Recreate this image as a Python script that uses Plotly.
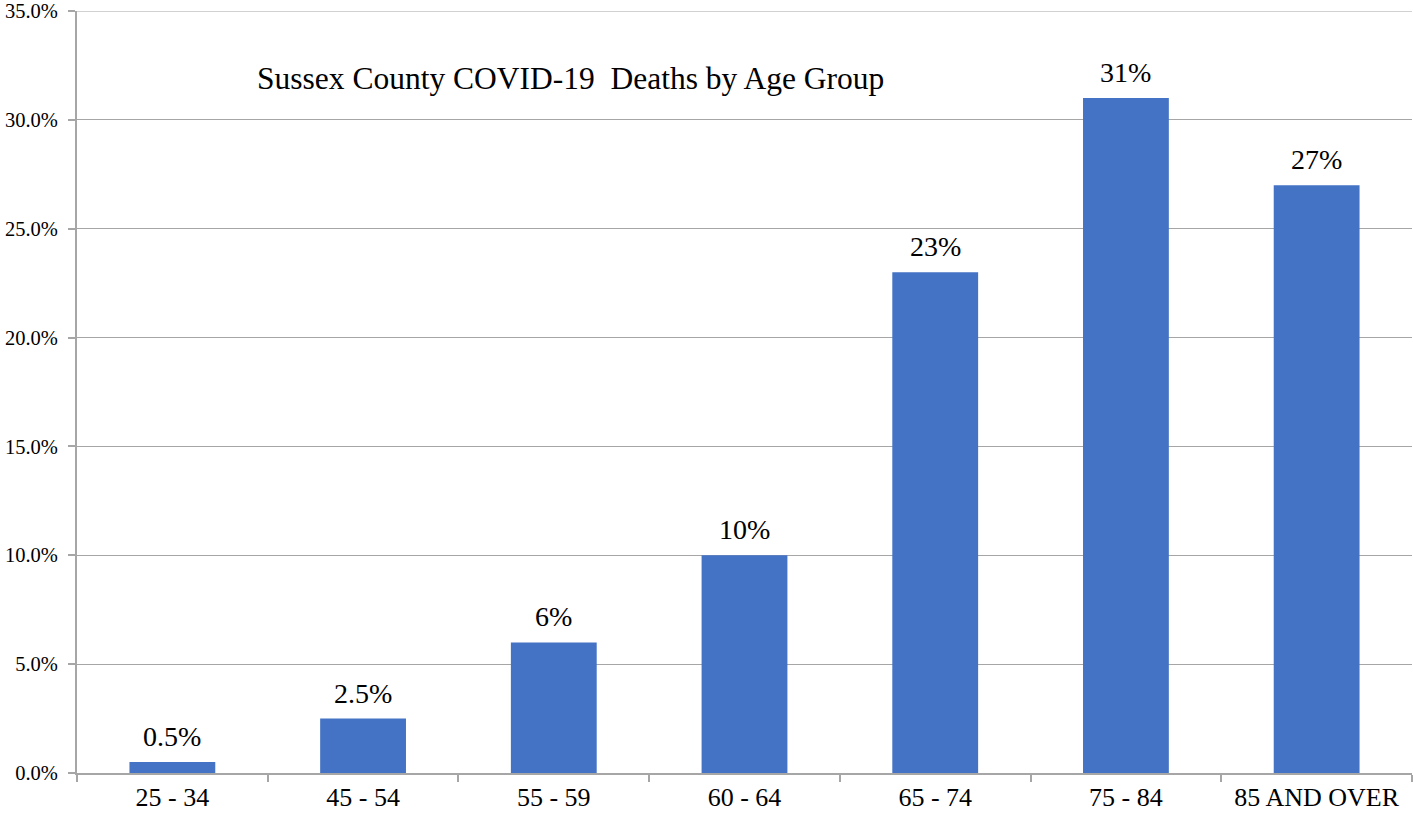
import plotly.graph_objects as go

categories = ["25 - 34", "45 - 54", "55 - 59", "60 - 64", "65 - 74", "75 - 84", "85 AND OVER"]
percent_values = [0.5, 2.5, 6, 10, 23, 31, 27]
value_labels = ["0.5%", "2.5%", "6%", "10%", "23%", "31%", "27%"]
y_ticks = [0, 5, 10, 15, 20, 25, 30, 35]
y_tick_labels = ["0.0%", "5.0%", "10.0%", "15.0%", "20.0%", "25.0%", "30.0%", "35.0%"]
title_text = "Sussex County COVID-19  Deaths by Age Group"

font_family = "Liberation Serif, Times New Roman, serif"
grid_color = "#a6a6a6"

fig = go.Figure(
    go.Bar(
        x=categories,
        y=percent_values,
        marker=dict(color="#4472C4", line=dict(width=0)),
        width=0.45,
    )
)

annotations = [
    dict(
        text=title_text,
        x=0.370,
        y=0.911,
        xref="paper",
        yref="paper",
        xanchor="center",
        yanchor="middle",
        showarrow=False,
        font=dict(family=font_family, size=31.5, color="#000000"),
    )
]
for cat, val, lab in zip(categories, percent_values, value_labels):
    annotations.append(
        dict(
            text=lab,
            x=cat,
            y=val,
            xref="x",
            yref="y",
            xanchor="center",
            yanchor="bottom",
            yshift=8,
            showarrow=False,
            font=dict(family=font_family, size=28, color="#000000"),
        )
    )

fig.update_layout(
    width=1413,
    height=820,
    margin=dict(l=77, r=1, t=11, b=47, autoexpand=False),
    paper_bgcolor="white",
    plot_bgcolor="white",
    showlegend=False,
    font=dict(family=font_family, color="#000000"),
    annotations=annotations,
    shapes=[
        dict(
            type="line",
            xref="paper",
            yref="y",
            x0=0,
            x1=1,
            y0=y_ticks[-1],
            y1=y_ticks[-1],
            line=dict(color=grid_color, width=1),
            layer="below",
        )
    ],
)

fig.update_xaxes(
    type="category",
    automargin=False,
    showline=True,
    linecolor=grid_color,
    linewidth=2,
    ticks="outside",
    tickson="boundaries",
    ticklen=7,
    tickcolor=grid_color,
    tickwidth=2,
    tickfont=dict(family=font_family, size=26, color="#000000"),
    showgrid=False,
)

fig.update_yaxes(
    range=[0, 35.001],
    automargin=False,
    tickvals=y_ticks,
    ticktext=y_tick_labels,
    ticklabeloverflow="allow",
    showline=True,
    linecolor=grid_color,
    linewidth=2,
    ticks="outside",
    ticklen=7,
    tickcolor=grid_color,
    tickwidth=2,
    ticklabelstandoff=6,
    tickfont=dict(family=font_family, size=20.5, color="#000000"),
    showgrid=True,
    gridcolor=grid_color,
    gridwidth=1,
    zeroline=False,
)

fig.write_html(
    "out.html",
    config={"displayModeBar": False},
    post_script="document.body.style.margin='0';",
)
